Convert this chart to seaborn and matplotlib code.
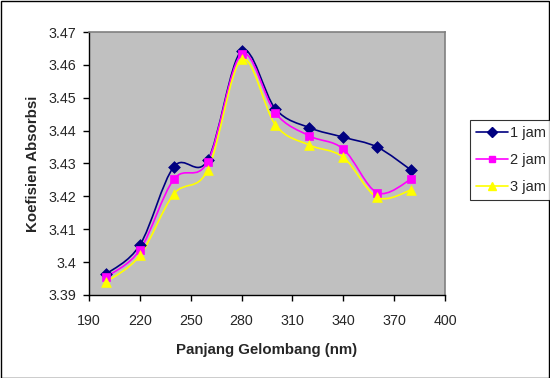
import numpy as np
import matplotlib
matplotlib.use("Agg")
import matplotlib.pyplot as plt
import seaborn as sns
from matplotlib.path import Path
from matplotlib.patches import PathPatch, Rectangle
from matplotlib.lines import Line2D

# ----------------------------------------------
# Data
# ----------------------------------------------
wavelength = [200, 220, 240, 260, 280, 300, 320, 340, 360, 380]
jam_1 = [3.3963, 3.4052, 3.4290, 3.4310, 3.4643, 3.4466, 3.4409, 3.4380, 3.4350, 3.4280]
jam_2 = [3.3954, 3.4037, 3.4252, 3.4305, 3.4633, 3.4453, 3.4384, 3.4344, 3.4211, 3.4252]
jam_3 = [3.3939, 3.4020, 3.4207, 3.4280, 3.4617, 3.4417, 3.4356, 3.4319, 3.4197, 3.4219]
series_names = ["1 jam", "2 jam", "3 jam"]

x_ticks = [190, 220, 250, 280, 310, 340, 370, 400]
y_ticks = [3.39, 3.40, 3.41, 3.42, 3.43, 3.44, 3.45, 3.46, 3.47]
y_tick_labels = ["3.39", "3.4", "3.41", "3.42", "3.43", "3.44", "3.45", "3.46", "3.47"]

STYLES = [
    dict(color="#000080", marker="D", size=6),
    dict(color="#FF00FF", marker="s", size=6),
    dict(color="#FFFF00", marker="^", size=7),
]


def smooth_path(xs, ys):
    """Excel-like smoothed line: cubic Bezier through each point."""
    pts = np.column_stack([xs, ys]).astype(float)
    n = len(pts)
    verts = [pts[0]]
    codes = [Path.MOVETO]
    for i in range(n - 1):
        p0 = pts[i - 1] if i > 0 else pts[i]
        p1, p2 = pts[i], pts[i + 1]
        p3 = pts[i + 2] if i + 2 < n else pts[i + 1]
        c1 = p1 + (p2 - p0) / 6.0
        c2 = p2 - (p3 - p1) / 6.0
        verts += [c1, c2, p2]
        codes += [Path.CURVE4] * 3
    return Path(verts, codes)


sns.set_style("white")
plt.rcParams["font.family"] = ["Liberation Sans", "DejaVu Sans"]

fig = plt.figure(figsize=(5.5, 3.78), dpi=100)
ax = fig.add_axes([0.162, 0.22, 0.647, 0.695])
ax.set_facecolor("#C0C0C0")

handles = []
for name, ys, st in zip(series_names, [jam_1, jam_2, jam_3], STYLES):
    patch = PathPatch(smooth_path(wavelength, ys), facecolor="none",
                      edgecolor=st["color"], lw=1.2, transform=ax.transData, zorder=2)
    ax.add_patch(patch)
    sns.scatterplot(x=wavelength, y=ys, marker=st["marker"], color=st["color"],
                    s=st["size"] ** 2, edgecolor=st["color"], linewidth=0.5,
                    ax=ax, zorder=3)
    handles.append(Line2D([0], [0], color=st["color"], lw=1.2, marker=st["marker"],
                          markersize=st["size"] - 1, markeredgecolor=st["color"]))

ax.set_xlim(190, 400)
ax.set_ylim(3.39, 3.47)
ax.set_xticks(x_ticks)
ax.set_yticks(y_ticks)
ax.set_yticklabels(y_tick_labels)
ax.tick_params(axis="both", direction="out", length=4.5, width=1, color="black",
               labelsize=10.3, left=True, bottom=True)
ax.tick_params(axis="x", pad=9)
ax.tick_params(axis="y", pad=5)

for side in ["left", "bottom"]:
    ax.spines[side].set_color("black")
    ax.spines[side].set_linewidth(1)
for side in ["top", "right"]:
    ax.spines[side].set_color("#808080")
    ax.spines[side].set_linewidth(1.2)

ax.set_xlabel("Panjang Gelombang (nm)", fontsize=10.8, fontweight="bold", labelpad=11)
ax.set_ylabel("Koefisien Absorbsi", fontsize=10.8, fontweight="bold", labelpad=6)

leg = fig.legend(handles, series_names, loc="upper left", bbox_to_anchor=(0.855, 0.6825),
                 borderaxespad=0, frameon=True, fancybox=False, edgecolor="black",
                 fontsize=10.5, handlelength=2.2, borderpad=0.4, labelspacing=0.9,
                 handletextpad=0.15)
leg.get_frame().set_linewidth(0.8)

# outer chart border
fig.patches.append(Rectangle((0.001, 0.001), 0.997, 0.997, transform=fig.transFigure,
                             fill=False, edgecolor="black", lw=1))

plt.savefig("out.png", dpi=100)
plt.close()
